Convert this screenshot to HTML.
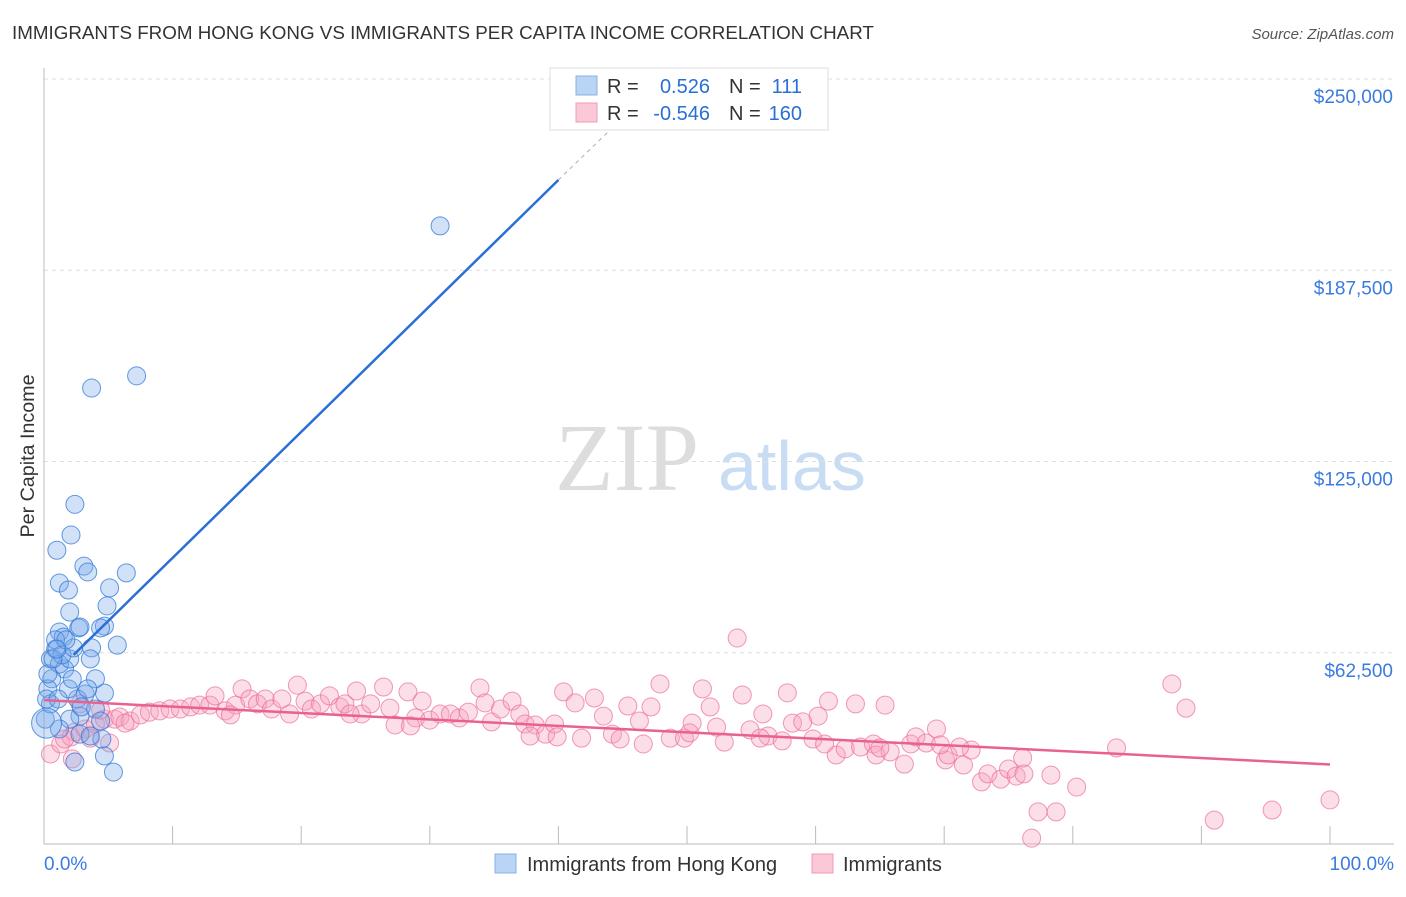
<!DOCTYPE html>
<html><head><meta charset="utf-8"><style>
body{margin:0;background:#fff;font-family:"Liberation Sans",sans-serif}
</style></head><body>
<svg id="c" width="1406" height="892" xmlns="http://www.w3.org/2000/svg" style="font-family:'Liberation Sans',sans-serif">
<text x="12" y="39" font-size="18.8" fill="#333">IMMIGRANTS FROM HONG KONG VS IMMIGRANTS PER CAPITA INCOME CORRELATION CHART</text>
<text x="1394" y="39" font-size="15" fill="#555" font-style="italic" text-anchor="end">Source: ZipAtlas.com</text>
<text x="34" y="456" font-size="19.7" fill="#333" transform="rotate(-90 34 456)" text-anchor="middle">Per Capita Income</text>
<g>
<text x="555" y="490" font-size="96" fill="#ddd" font-family="'Liberation Serif',serif">ZIP</text>
<text x="718" y="490" font-size="70" fill="#c8dcf4">atlas</text></g>
<g id="grid"></g><g id="pts"></g><g id="lines"></g>
<g>
<rect x="550" y="68" width="278" height="62" fill="#fff" stroke="#ddd"/>
<rect x="576" y="76" width="21" height="19" fill="#b9d4f5" stroke="#88b0e8"/>
<rect x="576" y="103" width="21" height="19" fill="#fbc8d8" stroke="#f09ab4"/>
<text x="607" y="93" font-size="20" fill="#333">R =</text><text x="710" y="93" font-size="20" fill="#2a6fd6" text-anchor="end">0.526</text>
<text x="729" y="93" font-size="20" fill="#333">N =</text><text x="802" y="93" font-size="20" fill="#2a6fd6" text-anchor="end">111</text>
<text x="607" y="120" font-size="20" fill="#333">R =</text><text x="710" y="120" font-size="20" fill="#2a6fd6" text-anchor="end">-0.546</text>
<text x="729" y="120" font-size="20" fill="#333">N =</text><text x="802" y="120" font-size="20" fill="#2a6fd6" text-anchor="end">160</text>
</g>
<g>
<rect x="495" y="854" width="21" height="19" fill="#b9d4f5" stroke="#88b0e8"/>
<text x="527" y="871" font-size="20" fill="#333">Immigrants from Hong Kong</text>
<rect x="812" y="854" width="21" height="19" fill="#fbc8d8" stroke="#f09ab4"/>
<text x="843" y="871" font-size="20" fill="#333">Immigrants</text></g>
</svg>
<script>
const yTicks=[62500,125000,187500,250000];
const yTickLabels=["$62,500","$125,000","$187,500","$250,000"];
const xTickLabels=["0.0%","100.0%"];
const blueX=[30.8,7.2,3.7,2.4,2.1,1.0,6.4,5.1,3.1,3.4,1.2,1.9,4.9,2.0,2.7,4.7,4.4,5.7,1.2,1.5,3.7,2.8,0.9,0.5,1.6,0.6,0.3,1.2,2.0,3.6,4.0,4.7,3.2,2.6,4.0,2.8,2.0,1.2,0.1,0.5,4.4,4.5,2.8,3.6,4.7,5.4,2.4,0.2,0.9,1.4,0.3,1.9,3.4,2.9,1.1,2.3,1.7,0.7,1.0,2.2];
const blueY=[202,153,149,111,101,96,88.6,83.7,90.8,88.9,85.3,83,77.8,75.8,70.6,71.2,70.6,65,69.3,67.6,64.1,70.9,63.7,60.5,57.2,54,50.7,58.8,60.5,60.5,54,49.3,49,47.4,44.1,41.8,40.8,37.6,40.8,45.8,40.2,34.3,35.9,35.3,28.8,23.5,26.8,47.4,66.7,61.8,55.6,50.7,50.7,44.8,47.4,64.1,66.7,60.5,63.7,53.9];
const pinkX=[0.5,1.3,2.1,2.4,3.2,4.0,4.7,5.5,5.9,6.7,7.5,8.2,9.0,9.8,10.6,11.4,12.1,12.9,13.3,14.1,14.9,15.4,16.0,16.6,17.2,17.7,18.5,19.1,19.7,20.3,20.8,21.5,22.2,23.0,23.4,24.3,24.7,25.4,26.4,26.9,27.3,28.3,28.9,29.4,30.0,30.8,31.6,32.3,33.0,33.9,34.3,34.8,35.5,36.4,37.0,37.4,38.2,39.0,39.7,40.4,41.3,41.8,42.8,43.5,44.2,44.8,45.4,46.3,46.6,47.2,47.9,48.7,49.8,50.4,51.2,51.8,52.3,52.9,53.9,54.3,54.9,55.9,56.3,57.4,57.8,58.2,59.0,59.8,60.2,61.0,61.6,62.3,63.1,63.5,64.5,64.7,65.4,65.8,66.9,67.4,67.8,68.6,69.4,70.1,70.3,71.5,72.1,72.9,73.4,74.4,75.0,75.6,76.2,76.8,77.3,78.3,78.7,80.3,83.4,87.7,88.8,91.0,95.5,100,76.1,71.2,69.7,65.0,60.7,55.7,50.2,39.9,37.8,28.5,23.8,14.5,4.4,2.8,1.6,3.6,2.2,5.1,6.3];
const pinkY=[29.4,32.7,35,36.6,37.6,39.2,40.8,40.8,41.5,40.2,42.2,43.1,43.5,44.1,44.1,44.8,45.4,45.4,48.4,43.5,45.4,50.7,47.4,45.8,47.4,44.1,47.4,42.5,51.9,46.7,44.1,45.8,48.4,44.8,45.8,50,42.5,45.8,51.3,44.4,38.9,49.7,41.2,46.7,40.5,42.5,42.5,41.2,43.1,51,46.1,39.9,44.1,46.7,42.5,39.2,38.9,35.9,39.2,49.7,46.1,34.6,47.7,41.8,35.9,34.3,45.1,40.2,32.7,44.8,52.3,34.6,34.6,39.5,50.7,44.8,38.2,33.3,67.3,48.7,37.3,42.5,35.3,33.7,49.4,39.5,39.9,34.3,41.8,46.7,29.1,31.1,45.8,31.7,32.7,29.1,45.4,30.1,26.1,32.7,35.0,33.0,37.6,27.5,29.1,25.8,30.7,20.3,22.9,21.2,24.5,22.2,22.9,1.9,10.5,22.5,10.5,18.6,31.4,52.3,44.4,7.8,11.1,14.4,28.1,31.7,32.4,31.4,32.7,34.6,36.3,35,35.3,38.6,42.5,42.2,43.8,45.8,34.3,34.6,27.8,33,39.5,38.9,43.1];
const blueLine=[2.3,40.0,45.9];const blueLineY=[61.8,217,241];
const pinkLine=[0,100];const pinkLineY=[47,26];
const NS="http://www.w3.org/2000/svg";
const X=p=>44+p*12.86, Y=v=>844-v*1000/250000*765;
function mk(t,a,par){const e=document.createElementNS(NS,t);for(const k in a)e.setAttribute(k,a[k]);document.getElementById(par).appendChild(e);return e;}
yTicks.forEach((v,i)=>{
 const l=mk('line',{x1:44,x2:1394,y1:Y(v/1000),y2:Y(v/1000),stroke:'#ddd','stroke-dasharray':'4,4'},'grid');
 
 
 const t=mk('text',{x:1393,y:Y(v/1000)+24,'font-size':19,fill:'#3a7be0','text-anchor':'end'},'grid');t.textContent=yTickLabels[i];
 
 
});
const ax=mk('line',{x1:44,x2:44,y1:68,y2:844,stroke:'#bbb'},'grid');


const bx=mk('line',{x1:44,x2:1394,y1:844,y2:844,stroke:'#bbb'},'grid');


for(let i=1;i<=10;i++){const t=mk('line',{x1:44+i*128.6,x2:44+i*128.6,y1:826,y2:844,stroke:'#bbb'},'grid');
 
 }
[[44,'start'],[1394,'end']].forEach((d,i)=>{const t=mk('text',{x:d[0],y:870,'font-size':19,fill:'#3a7be0','text-anchor':d[1]},'grid');t.textContent=xTickLabels[i];
 
 });
pinkX.forEach((x,i)=>{const c=mk('circle',{cx:X(x),cy:Y(pinkY[i]),r:9,fill:'rgba(247,160,190,0.35)',stroke:'rgba(236,110,150,0.7)','stroke-width':1},'pts');
 
 });
blueX.forEach((x,i)=>{const c=mk('circle',{cx:X(x),cy:Y(blueY[i]),r:9,fill:'rgba(120,170,235,0.35)',stroke:'rgba(50,120,215,0.75)','stroke-width':1},'pts');
 
 });
const big=mk('circle',{cx:X(0.2),cy:Y(39.5),r:15,fill:'rgba(120,170,235,0.35)',stroke:'rgba(50,120,215,0.75)'},'pts');


const bl=mk('line',{x1:X(blueLine[0]),y1:Y(blueLineY[0]),x2:X(blueLine[1]),y2:Y(blueLineY[1]),stroke:'#2a6fd6','stroke-width':2.5},'lines');


const bd=mk('line',{x1:X(blueLine[1]),y1:Y(blueLineY[1]),x2:X(blueLine[2]),y2:Y(blueLineY[2]),stroke:'#aac','stroke-width':1,'stroke-dasharray':'4,4'},'lines');


const pl=mk('line',{x1:X(pinkLine[0]),y1:Y(pinkLineY[0]),x2:X(pinkLine[1]),y2:Y(pinkLineY[1]),stroke:'#e8628e','stroke-width':2.5},'lines');


</script>
</body></html>
